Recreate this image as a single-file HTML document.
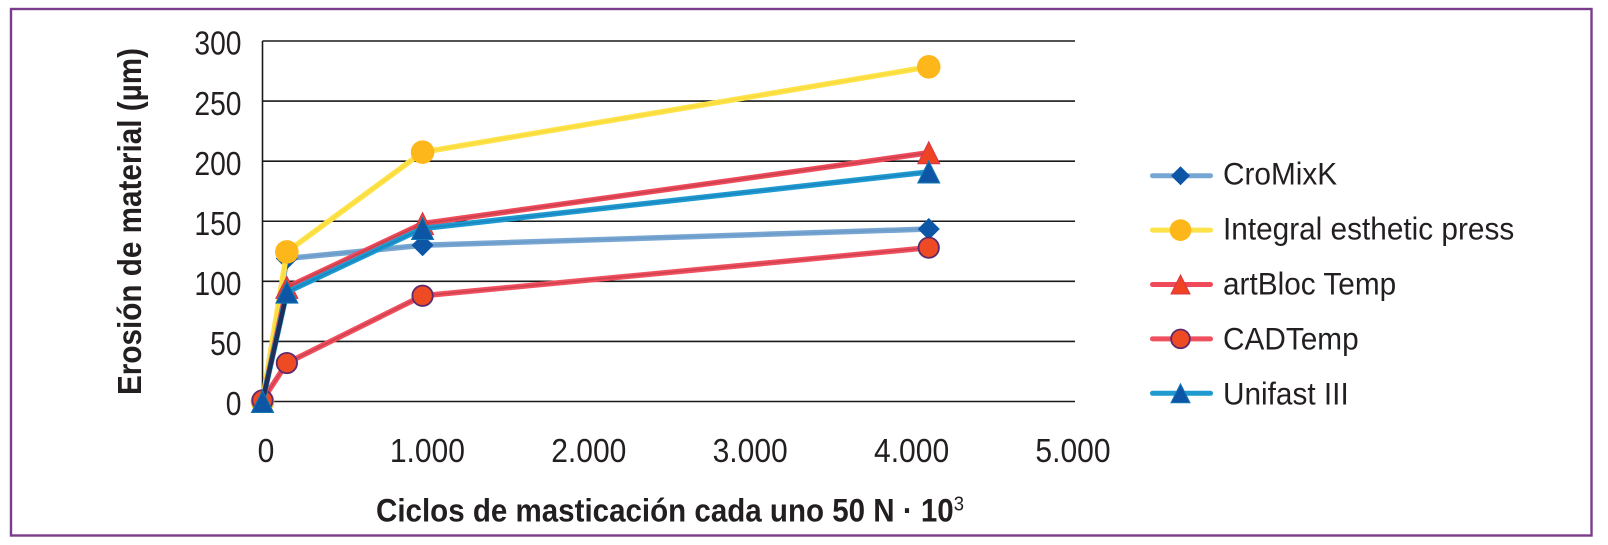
<!DOCTYPE html>
<html lang="es">
<head>
<meta charset="utf-8">
<title>Erosión de material</title>
<style>
html,body{margin:0;padding:0;background:#fff;width:1608px;height:545px;overflow:hidden}
svg{display:block}
text{font-family:"Liberation Sans",sans-serif;fill:#231f20}
</style>
</head>
<body>
<svg id="chart" xmlns="http://www.w3.org/2000/svg" width="1608" height="545" viewBox="0 0 1608 545">
  <rect x="11" y="9" width="1580.5" height="526.5" fill="#fff" stroke="#7a3d8c" stroke-width="2.4"/>
  <g id="grid"></g>
  <g id="axes"></g>
  <g id="series"></g>
  <g id="legend"></g>
  <text transform="translate(141,395) rotate(-90)" font-size="33" font-weight="700" textLength="347" lengthAdjust="spacingAndGlyphs">Erosión de material (µm)</text>
  <text x="376" y="521.5" font-size="32" font-weight="700" textLength="588" lengthAdjust="spacingAndGlyphs">Ciclos de masticación cada uno 50 N · 10<tspan font-size="20" dy="-11" font-weight="400">3</tspan></text>
</svg>
<script>
const xTicks = [0, 1000, 2000, 3000, 4000, 5000];
const xTickLabels = ['0', '1.000', '2.000', '3.000', '4.000', '5.000'];
const yTicks = [0, 50, 100, 150, 200, 250, 300];
const cycles = [0, 150, 985, 4100];
const seriesNames = ['CroMixK', 'Integral esthetic press', 'artBloc Temp', 'CADTemp', 'Unifast III'];
const cromixValues = [0, 119, 130, 143.5];
const integralValues = [0, 124.5, 207.5, 278.5];
const artblocValues = [0, 95, 148, 207];
const cadtempValues = [1, 32, 88, 128];
const unifastValues = [0, 91, 144, 191];

const NS = 'http://www.w3.org/2000/svg';
const X0 = 262.5, X1 = 1075, Y0 = 401.5, Y1 = 41;
const xScale = v => X0 + (v / 5000) * (X1 - X0);
const yScale = v => Y0 - (v / 300) * (Y0 - Y1);
const xLabelScale = v => 266 + (v / 5000) * 807;

const styles = [
  {values: cromixValues, outer: '#78a6d2', inner: '#6b9bc9', marker: 'diamond', fill: '#0d56a6', edge: '#0d56a6'},
  {values: integralValues, outer: '#fde24a', inner: '#f9dc3c', marker: 'circle', fill: '#fdb71a', edge: '#fdb71a', r: 11.8},
  {values: artblocValues, outer: '#ef4a5a', inner: '#c9404e', marker: 'triangle', fill: '#ee4423', edge: '#d8344a'},
  {values: cadtempValues, outer: '#f0505e', inner: '#cf4050', marker: 'circle', fill: '#ee4a23', edge: '#5c2a6e', r: 10.2},
  {values: unifastValues, outer: '#1f9ad0', inner: '#1a86c0', marker: 'triangle', fill: '#0d56a6', edge: '#1278b4', dark: true}
];

function make(tag, attrs, parent) {
  const el = document.createElementNS(NS, tag);
  for (const k in attrs) el.setAttribute(k, attrs[k]);
  parent.appendChild(el);
  return el;
}

function squeeze(el, factor) {
  el.setAttribute('textLength', (el.getComputedTextLength() * factor).toFixed(2));
  el.setAttribute('lengthAdjust', 'spacingAndGlyphs');
}

function drawMarker(st, cx, cy, parent, isLegend) {
  let el;
  if (st.marker === 'circle') {
    const r = isLegend ? st.r * 0.92 : st.r;
    el = make('circle', {cx: cx, cy: cy, r: r, fill: st.fill, stroke: st.edge, 'stroke-width': st.r < 11 ? 1.8 : 0}, parent);
  } else if (st.marker === 'diamond') {
    const r = isLegend ? 9.5 : 11;
    el = make('polygon', {points: [cx, cy - r, cx + r, cy, cx, cy + r, cx - r, cy].join(' '), fill: st.fill}, parent);
  } else {
    const r = isLegend ? 9.5 : 11;
    el = make('polygon', {points: [cx, cy - r, cx + r, cy + r, cx - r, cy + r].join(' '), fill: st.fill, stroke: st.edge, 'stroke-width': 1}, parent);
  }
  return el;
}

const grid = document.getElementById('grid');
const axes = document.getElementById('axes');
const seriesGroup = document.getElementById('series');
const legend = document.getElementById('legend');

yTicks.forEach(t => {
  const line = make('line', {x1: X0, x2: X1, y1: yScale(t), y2: yScale(t), stroke: '#1a1a1a', 'stroke-width': 1.6}, grid);
  
  
  const lab = make('text', {x: 241.5, y: yScale(t) + 13.7, 'font-size': 33, 'text-anchor': 'end'}, axes);
  
  
  lab.textContent = String(t);
  squeeze(lab, 0.855);
});

const yAxisLine = make('line', {x1: X0, x2: X0, y1: Y1, y2: Y0, stroke: '#1a1a1a', 'stroke-width': 1.6}, axes);



xTicks.forEach((t, i) => {
  const lab = make('text', {x: xLabelScale(t), y: 462.2, 'font-size': 33, 'text-anchor': 'middle'}, axes);
  
  
  lab.textContent = xTickLabels[i];
  squeeze(lab, 0.91);
});

styles.forEach((st, i) => {
  const pts = st.values.map((v, j) => xScale(cycles[j]) + ',' + yScale(v)).join(' ');
  const g = make('g', {}, seriesGroup);
  
  
  const outer = make('polyline', {points: pts, fill: 'none', stroke: st.outer, 'stroke-width': 5.5, 'stroke-linejoin': 'round'}, g);
  
  
  const inner = make('polyline', {points: pts, fill: 'none', stroke: st.inner, 'stroke-width': 1.6, 'stroke-linejoin': 'round'}, g);
  
  
  if (st.dark) {
    const seg = make('line', {x1: xScale(cycles[0]), y1: yScale(st.values[0]), x2: xScale(cycles[1]), y2: yScale(st.values[1]), stroke: '#1f2f5c', 'stroke-width': 4.5}, g);
    
    
  }
  st.values.forEach((v, j) => {
    const m = drawMarker(st, xScale(cycles[j]), yScale(v), g, false);
    
    
  });
});

styles.forEach((st, i) => {
  const y = 175.7 + i * 54.4;
  const g = make('g', {}, legend);
  
  
  const line = make('line', {x1: 1152.5, x2: 1210.5, y1: y, y2: y, stroke: st.outer, 'stroke-width': 5, 'stroke-linecap': 'round'}, g);
  
  
  const mk = drawMarker(st, 1180.5, y, g, true);
  
  
  const txt = make('text', {x: 1223, y: 184.3 + i * 55, 'font-size': 31.5}, g);
  
  
  txt.textContent = seriesNames[i];
  squeeze(txt, 0.945);
});
</script>
</body>
</html>
